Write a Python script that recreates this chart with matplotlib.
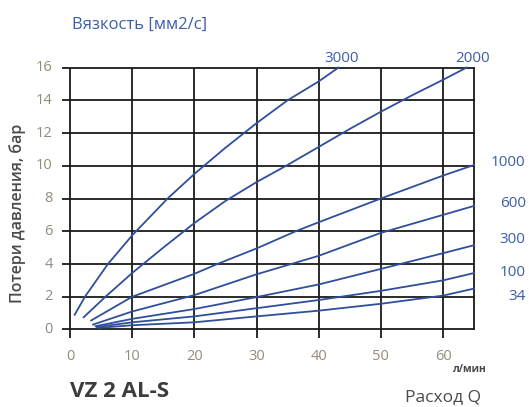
import matplotlib
matplotlib.use("Agg")
import matplotlib.pyplot as plt

# viscosity curves (flow л/мин, pressure loss бар)
x_3000 = [0.75, 2.4, 6.1, 10, 15.7, 20, 25, 30, 35, 40, 43.2]
y_3000 = [0.9, 2, 4, 5.75, 8, 9.5, 11.1, 12.6, 14, 15.15, 16]

x_2000 = [2.2, 5.7, 10, 15, 20, 25, 30, 35, 40, 45, 50, 55, 60, 63.8]
y_2000 = [0.75, 2, 3.45, 5.0, 6.5, 7.85, 9.0, 10.05, 11.15, 12.25, 13.3, 14.3, 15.25, 16]

x_1000 = [3.4, 10, 20, 23.7, 30, 36.3, 40, 50, 60, 65]
y_1000 = [0.55, 2, 3.4, 4, 4.95, 6, 6.55, 8, 9.4, 10.05]

x_600 = [3.7, 10, 20, 30, 40, 50, 60, 65]
y_600 = [0.3, 1.1, 2.1, 3.37, 4.5, 5.9, 7.0, 7.55]

x_300 = [4.1, 10, 20, 30, 40, 50, 60, 65]
y_300 = [0.2, 0.65, 1.25, 1.98, 2.75, 3.7, 4.66, 5.15]

x_100 = [4.3, 10, 20, 30, 40, 50, 60, 65]
y_100 = [0.15, 0.44, 0.8, 1.3, 1.8, 2.36, 3.0, 3.45]

x_34 = [4.6, 10, 20, 30, 40, 50, 60, 65]
y_34 = [0.1, 0.26, 0.44, 0.8, 1.15, 1.57, 2.07, 2.5]

curves = [(x_3000, y_3000), (x_2000, y_2000), (x_1000, y_1000), (x_600, y_600),
          (x_300, y_300), (x_100, y_100), (x_34, y_34)]

top_labels = ["3000", "2000"]
top_label_x = [43.7, 64.8]
right_labels = ["1000", "600", "300", "100", "34"]
right_label_y = [10.2, 7.7, 5.5, 3.5, 2.0]

x_ticks = [0, 10, 20, 30, 40, 50, 60]
y_ticks = [0, 2, 4, 6, 8, 10, 12, 14, 16]

blue = "#2f4f9c"
label_blue = "#3b5eab"
tick_col = "#948a7c"
dark = "#4a4a4a"

plt.rcParams["font.family"] = ["Open Sans", "DejaVu Sans"]

fig = plt.figure(figsize=(5.29, 4.07), dpi=100)
ax = fig.add_axes([0.1159, 0.1683, 0.785, 0.6698])
ax.set_xlim(-1.4, 65.4)
ax.set_ylim(-0.55, 16.1)
for s in ax.spines.values():
    s.set_visible(False)
ax.set_xticks([])
ax.set_yticks([])

# grid drawn by hand so the lines stick out like ticks
ax.hlines(y_ticks, -1.3, 65.2, color="#1a1a1a", lw=1.3, zorder=1)
ax.vlines(x_ticks, -0.5, 16, color="#1a1a1a", lw=1.3, zorder=1)
ax.vlines([65], 0, 16, color="#1a1a1a", lw=1.3, zorder=1)

for xs, ys in curves:
    ax.plot(xs, ys, color=blue, lw=1.3, zorder=2)

for v in y_ticks:
    ax.text(-2.8, v, str(v), ha="right", va="center", fontsize=10.5, color=tick_col)
for v in x_ticks:
    ax.text(v, -1.2, str(v), ha="center", va="top", fontsize=10.5, color=tick_col)

for lab, xv in zip(top_labels, top_label_x):
    ax.text(xv, 16.55, lab, ha="center", va="center", fontsize=11,
            color=label_blue, clip_on=False)
for lab, yv in zip(right_labels, right_label_y):
    ax.text(73.3, yv, lab, ha="right", va="center", fontsize=11,
            color=label_blue, clip_on=False)

fig.text(0.136, 0.94, "Вязкость [мм2/с]", ha="left", va="center",
         fontsize=12, color=label_blue)
fig.text(0.034, 0.475, "Потери давления, бар", rotation=90, ha="center",
         va="center", fontsize=11.5, color=dark, fontweight="semibold")
fig.text(0.888, 0.091, "л/мин", ha="center", va="center", fontsize=7.5,
         color=dark, fontweight="bold")
fig.text(0.132, 0.037, "VZ 2 AL-S", ha="left", va="center", fontsize=16,
         color="#3c3c3c", fontweight="bold")
fig.text(0.766, 0.025, "Расход Q", ha="left", va="center", fontsize=12.5,
         color=dark)

fig.savefig("out.png", dpi=100)
